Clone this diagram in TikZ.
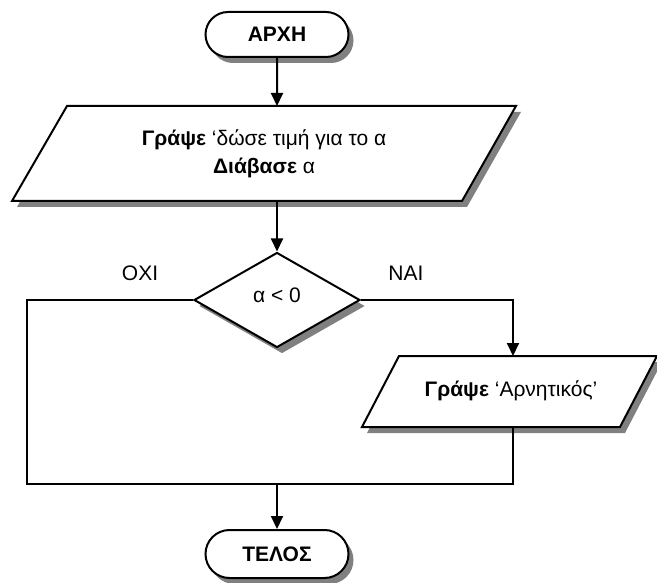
\documentclass[tikz,border=0pt]{standalone}
\usepackage{fontspec}
\setmainfont{Liberation Sans}
\usetikzlibrary{arrows.meta,shapes.misc,shapes.geometric,shadows}

\tikzset{
  line/.style={line width=2pt, line join=miter},
  flow/.style={line, -{Triangle[length=13pt,width=12pt]}},
  shade/.style={drop shadow={shadow xshift=5pt, shadow yshift=-6pt, fill=black!50, opacity=1}},
  terminal/.style={rounded rectangle, draw, line, fill=white, shade,
    minimum width=143pt, minimum height=45pt, inner sep=0pt,
    font=\fontsize{21}{24}\selectfont\bfseries},
  decision/.style={diamond, draw, line, fill=white, shade,
    minimum width=166pt, minimum height=95pt, inner sep=0pt},
  iobox/.style={draw, line, fill=white, shade},
  txt/.style={font=\fontsize{21}{28}\selectfont, align=center, inner sep=0pt},
}

\begin{document}
\begin{tikzpicture}[x=1pt,y=-1pt]
\useasboundingbox (0,0) rectangle (657,583);

% start of the algorithm
\node[terminal] (start) at (277,34.5) {ΑΡΧΗ};

% input / output box: prompt and read
\path[iobox] (67,106) -- (516,106) -- (462,201) -- (12,201) -- cycle;
\coordinate (inTop) at (277,106);
\coordinate (inBot) at (277,201);
\node[txt] (input) at (264,154) {\textbf{Γράψε} ‘δώσε τιμή για το α\\\textbf{Διάβασε} α};

% condition
\node[decision] (dec) at (277,300) {};
\node[txt] (cond) at (277,295) {α < 0};
\node[txt] (no) at (140,273) {ΟΧΙ};
\node[txt] (yes) at (406,273) {ΝΑΙ};

% output box for the negative case
\path[iobox] (399,356) -- (657,356) -- (620,427) -- (362,427) -- cycle;
\coordinate (outTop) at (513,356);
\coordinate (outBot) at (513,427);
\node[txt] (out) at (511,391) {\textbf{Γράψε} ‘Αρνητικός’};

% end of the algorithm
\node[terminal, minimum height=48pt] (end) at (277,554) {ΤΕΛΟΣ};

% connectors
\coordinate (leftC) at (27,484);
\coordinate (rightC) at (513,484);
\coordinate (merge) at (277,484);

\draw[flow] (start) -- (inTop);
\draw[flow] (inBot) -- (dec.north);
\draw[flow] (dec.east) -| (outTop);
\draw[line] (dec.west) -| (leftC) -- (rightC) -- (outBot);
\draw[flow] (merge) -- (end);
\end{tikzpicture}
\end{document}
